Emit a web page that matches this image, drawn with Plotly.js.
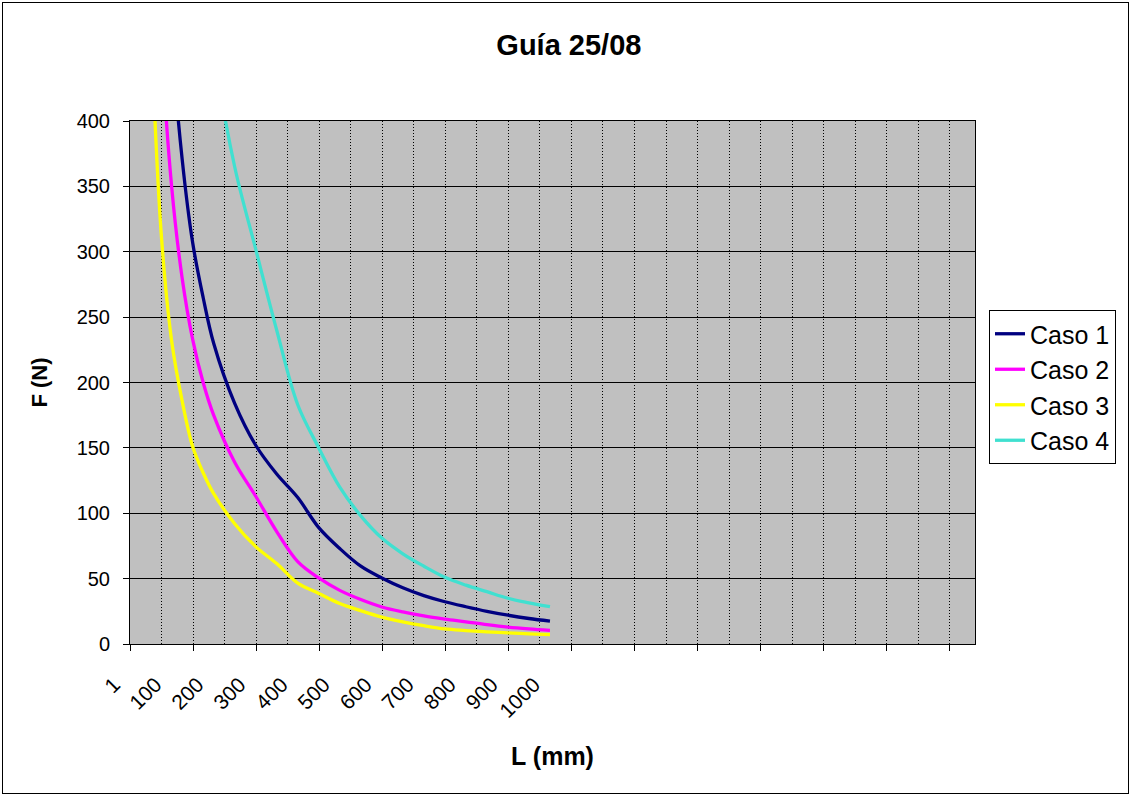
<!DOCTYPE html>
<html>
<head>
<meta charset="utf-8">
<script src="https://cdn.plot.ly/plotly-3.0.1.min.js"></script>
<style>
  html, body { margin: 0; padding: 0; background: #fff; }
  #wrap { position: relative; width: 1131px; height: 796px; }
  #chart { position: absolute; left: 0; top: 0; width: 1131px; height: 796px; }
  #frame { position: absolute; left: 2px; top: 2px; width: 1125px; height: 790px;
           border: 1px solid #000; pointer-events: none; }
</style>
</head>
<body>
<div id="wrap"><div id="chart"></div><div id="frame"></div></div>
<script>
// Length L (mm) at which the force was evaluated
const lengths = [50, 75, 100, 125, 150, 175, 200, 250, 300, 350, 400, 450, 500,
                 550, 600, 650, 700, 750, 800, 850, 900, 950, 1000];

// Force F (N) for each case
const caso1 = [928, 619, 464, 371, 307, 265, 230, 184, 152, 130, 112, 89, 73,
               59.5, 50.5, 43, 37, 32.3, 28.5, 25, 22, 19.5, 17.5];
const caso2 = [700, 467, 350, 280, 233, 200, 175, 139, 113, 86, 63, 50.5, 41,
               34, 28.3, 24.5, 21.5, 19.1, 17, 14.8, 12.9, 11.5, 10.4];
const caso3 = [480, 315, 232, 186, 151, 131, 115, 92, 74.5, 61.5, 46.5, 38.7, 31,
               25.5, 20.6, 17, 14, 11.5, 10.3, 9.3, 8.5, 7.8, 7.2];
const caso4 = [1800, 1200, 900, 725, 605, 519, 454, 365, 302, 240, 183, 150, 120,
               98, 81, 69, 59.5, 51, 45, 40, 35, 31.5, 28.5];

const seriesNames = ['Caso 1', 'Caso 2', 'Caso 3', 'Caso 4'];
const seriesColors = ['#000080', '#ff00ff', '#ffff00', '#40e0d0'];

// Category labels shown along the length axis
const xTickVals = [1, 100, 200, 300, 400, 500, 600, 700, 800, 900, 1000];
const xTickText = ['1', '100', '200', '300', '400', '500', '600', '700', '800', '900', '1000'];

const xRange = [1, 2011];
const FONT = 'Arial, "Liberation Sans", sans-serif';

const traces = [caso1, caso2, caso3, caso4].map((vals, i) => ({
  type: 'scatter',
  mode: 'lines',
  name: seriesNames[i],
  x: lengths,
  y: vals,
  line: { color: seriesColors[i], width: 3.3, shape: 'spline', smoothing: 1 },
  hoverinfo: 'x+y+name'
}));

// carrier for the secondary axis that draws ticks and dotted gridlines
traces.push({ type: 'scatter', mode: 'lines', x: [], y: [], xaxis: 'x2',
              showlegend: false, hoverinfo: 'skip' });

const layout = {
  width: 1131,
  height: 796,
  autosize: false,
  paper_bgcolor: '#ffffff',
  plot_bgcolor: '#c0c0c0',
  margin: { l: 130, r: 156, t: 121, b: 152, pad: 0 },
  font: { family: FONT, color: '#000', size: 20 },
  title: {
    text: 'Guía 25/08',
    font: { family: FONT, size: 29, color: '#000', weight: 'bold' },
    xref: 'container', x: 0.503, xanchor: 'center',
    yref: 'container', y: 1 - 45 / 796, yanchor: 'middle'
  },
  xaxis: {
    range: xRange,
    tickmode: 'array',
    tickvals: xTickVals,
    ticktext: xTickText,
    tickangle: -45,
    ticks: '',
    showgrid: false,
    zeroline: false,
    showline: true,
    linecolor: '#000',
    linewidth: 1,
    mirror: true,
    tickfont: { family: FONT, size: 21, color: '#000' },
    ticklabelstandoff: 19,
    ticklabelshift: -16,
    title: { text: 'L (mm)', font: { family: FONT, size: 25, color: '#000', weight: 'bold' }, standoff: 26 },
    fixedrange: true
  },
  xaxis2: {
    overlaying: 'x',
    anchor: 'y',
    side: 'bottom',
    range: xRange,
    tick0: 1,
    dtick: 150,
    ticks: 'outside',
    ticklen: 6,
    tickcolor: '#000',
    tickwidth: 1,
    showticklabels: false,
    showgrid: true,
    gridcolor: '#000',
    gridwidth: 1,
    griddash: '1px,2px',
    minor: { tick0: 1, dtick: 75, showgrid: true, gridcolor: '#000', gridwidth: 1, griddash: '1px,2px', ticks: '' },
    zeroline: false,
    showline: false,
    fixedrange: true
  },
  yaxis: {
    range: [0, 400],
    tick0: 0,
    dtick: 50,
    ticks: 'outside',
    ticklen: 6,
    tickcolor: '#000',
    showgrid: true,
    gridcolor: '#000',
    gridwidth: 1,
    zeroline: false,
    showline: true,
    linecolor: '#000',
    linewidth: 1,
    mirror: true,
    tickfont: { family: FONT, size: 20, color: '#000' },
    ticklabelstandoff: 9,
    title: { text: 'F (N)', font: { family: FONT, size: 22, color: '#000', weight: 'bold' }, standoff: 22 },
    fixedrange: true
  },
  legend: {
    x: (989 - 130) / 845, xanchor: 'left',
    y: (644 - 310) / 523, yanchor: 'top',
    bgcolor: '#ffffff',
    bordercolor: '#000',
    borderwidth: 1,
    itemwidth: 30,
    font: { family: FONT, size: 25, color: '#000' }
  },
  showlegend: true
};

Plotly.newPlot('chart', traces, layout, { displayModeBar: false, staticPlot: true });
</script>
</body>
</html>
